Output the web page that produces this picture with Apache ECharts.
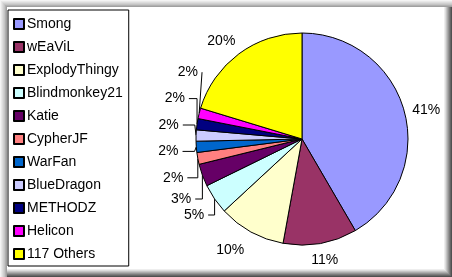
<!DOCTYPE html>
<html><head><meta charset="utf-8">
<script src="https://cdn.jsdelivr.net/npm/echarts@6/dist/echarts.min.js"></script>
<style>
html,body{margin:0;padding:0;background:#fff;}
#frame{position:absolute;left:0;top:0;width:452px;height:277px;background:#fff;box-sizing:border-box;
box-shadow:
 inset 1px 1px 0 #f4f4f4, inset 2px 2px 0 #e8e8e8, inset 3px 3px 0 #dcdcdc, inset 4px 4px 0 #d0d0d0, inset 5px 5px 0 #c4c4c4, inset 6px 6px 0 #b0b0b0, inset 7px 7px 0 #a0a0a0,
 inset -1px -1px 0 #505050, inset -2px -2px 0 #666, inset -3px -3px 0 #7c7c7c, inset -4px -4px 0 #949494, inset -5px -5px 0 #acacac, inset -6px -6px 0 #c4c4c4, inset -7px -7px 0 #dcdcdc, inset -8px -8px 0 #eeeeee;}
#c{position:absolute;left:0;top:0;width:452px;height:277px;}
</style></head>
<body><div id="frame"></div><div id="c"></div>
<script>
var categories = ['Smong','wEaViL','ExplodyThingy','Blindmonkey21','Katie','CypherJF','WarFan','BlueDragon','METHODZ','Helicon','117 Others'];
var values = [41.4, 11.2, 10.2, 4.6, 3.4, 1.8, 1.7, 1.7, 1.7, 1.6, 20.2];
var colors = ['#9999FF','#993366','#FFFFCC','#CCFFFF','#660066','#FF8080','#0066CC','#CCCCFF','#000080','#FF00FF','#FFFF00'];

// label placement styles (line hidden for the large slices)
var labelStyle = {
  'Smong':         {len:3,  len2:0,  dist:5,   line:false},
  'wEaViL':        {len:17, len2:0,  dist:-12, line:false},
  'ExplodyThingy': {len:12, len2:0,  dist:1,   line:false, lh:52},
  'Blindmonkey21': {len:6,  len2:8,  dist:4,   line:true,  lh:10},
  'Katie':         {len:6,  len2:12, dist:4,   line:true,  lh:10},
  '117 Others':    {len:16, len2:0,  dist:-6,  line:false}
};
var smallStyle = {len:6, len2:12, dist:4, line:true, lh:24.4};

var chart = echarts.init(document.getElementById('c'), null, {renderer:'canvas'});
var data = categories.map(function(n,i){
  var s = labelStyle[n] || smallStyle;
  var item = {name:n, value:values[i], itemStyle:{color:colors[i]}};
  item.label = {distanceToLabelLine:s.dist};
  if (s.lh) item.label.lineHeight = s.lh;
  item.labelLine = {show:s.line, length:s.len, length2:s.len2};
  return item;
});
chart.setOption({
  animation:false,
  legend:{
    orient:'vertical', left:8, top:10,
    padding:[7,6,5,5],
    borderColor:'#000', borderWidth:1,
    itemWidth:10, itemHeight:10, itemGap:9,
    icon:'rect',
    selectedMode:false,
    textStyle:{fontFamily:'Liberation Sans, Arial', fontSize:14, color:'#000', padding:[0,0,0,-2]},
    data:categories
  },
  series:[{
    type:'pie',
    center:[302,139],
    radius:106,
    startAngle:90,
    clockwise:true,
    avoidLabelOverlap:true,
    itemStyle:{borderColor:'#000', borderWidth:1},
    label:{
      show:true, position:'outside', overflow:'none',
      fontFamily:'Liberation Sans, Arial', fontSize:14, color:'#000',
      formatter:function(p){return Math.round(p.value)+'%';}
    },
    labelLine:{lineStyle:{color:'#000', width:1}},
    emphasis:{disabled:true},
    data:data
  }]
});
</script></body></html>
